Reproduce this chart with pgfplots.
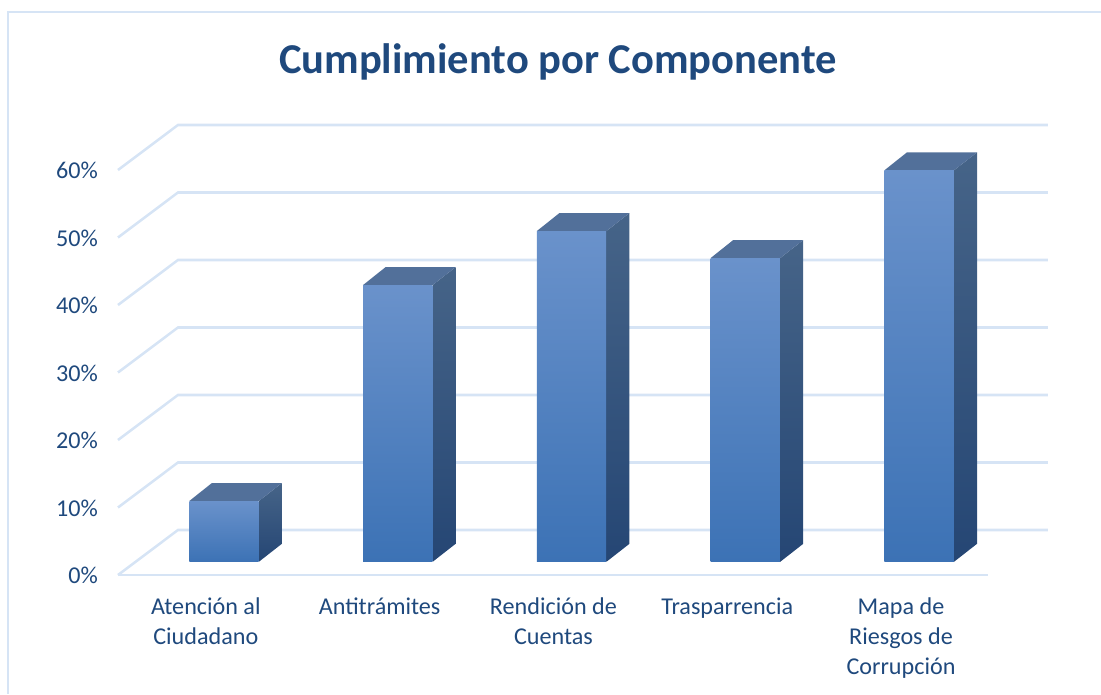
\documentclass[border=0pt]{standalone}
\usepackage{pgfplots}
\pgfplotsset{compat=1.18}
\usepackage{fontspec}
\setmainfont{Carlito}
\definecolor{txt}{HTML}{1F497D}
\definecolor{gridc}{HTML}{D6E4F5}
\definecolor{ftop}{HTML}{6A92CB}
\definecolor{fmid}{HTML}{4A80C4}
\definecolor{fbot}{HTML}{3C72B5}
\definecolor{stop}{HTML}{466488}
\definecolor{sbot}{HTML}{254674}
\definecolor{ttop}{HTML}{52709A}
\pgfplotsset{
  gridl/.style={draw=gridc,line width=1.9pt,no marks,line join=miter,forget plot},
  front/.style={draw=none,no marks,forget plot,top color=ftop,middle color=fmid,bottom color=fbot,yshift=9.9pt},
  side/.style={draw=none,no marks,forget plot,top color=stop,bottom color=sbot,yshift=9.9pt},
  topf/.style={draw=none,fill=ttop,no marks,forget plot,yshift=9.9pt},
}
\begin{document}
\begin{tikzpicture}
\useasboundingbox (-88.5pt,-89.25pt) rectangle (737.25pt,431.25pt);
\draw[gridc,line width=1.9pt] (-82.4pt,-89.25pt) -- (-82.4pt,422.25pt) -- (737.25pt,422.25pt);
\begin{axis}[
  scale only axis, width=652.5pt, height=337.5pt,
  xmin=-0.609, xmax=4.397, ymin=0, ymax=66.667,
  clip=false,
  axis line style={draw=none}, tick style={draw=none},
  xtick={0,1,2,3,4},
  xticklabels={{Atención al\\Ciudadano},{Antitrámites},{Rendición de\\Cuentas},{Trasparrencia},{Mapa de\\Riesgos de\\Corrupción}},
  ytick={0,10,20,30,40,50,60},
  yticklabels={0\%,10\%,20\%,30\%,40\%,50\%,60\%},
  xticklabel style={align=center,text=txt,font=\fontsize{18.1}{22.5}\selectfont,xshift=-13.5pt,yshift=-13.5pt},
  yticklabel style={text=txt,font=\fontsize{18.1}{21}\selectfont,xshift=-11.6pt,yshift=-0.6pt},
  title={Cumplimiento por Componente},
  title style={at={(0.5057,1.122)},anchor=center,text=txt,font=\bfseries\fontsize{31.9}{38}\selectfont},
]
% walls: slanted lines and back lines
\addplot[gridl] coordinates {(-0.609,0)(-0.264,6.667)(4.742,6.667)};
\addplot[gridl] coordinates {(-0.609,10)(-0.264,16.667)(4.742,16.667)};
\addplot[gridl] coordinates {(-0.609,20)(-0.264,26.667)(4.742,26.667)};
\addplot[gridl] coordinates {(-0.609,30)(-0.264,36.667)(4.742,36.667)};
\addplot[gridl] coordinates {(-0.609,40)(-0.264,46.667)(4.742,46.667)};
\addplot[gridl] coordinates {(-0.609,50)(-0.264,56.667)(4.742,56.667)};
\addplot[gridl] coordinates {(-0.609,60)(-0.264,66.667)(4.742,66.667)};
\addplot[gridl] coordinates {(-0.609,0)(4.397,0)};
% bar 1: 9
\addplot[side] coordinates {(0.2014,0)(0.3338,2.667)(0.3338,11.667)(0.2014,9)} --cycle;
\addplot[topf] coordinates {(-0.199,9)(0.2014,9)(0.3338,11.667)(-0.069,11.667)} --cycle;
\addplot[front] coordinates {(-0.199,0)(0.2,0)(0.2,9)(-0.199,9)} --cycle;
% bar 2: 41
\addplot[side] coordinates {(1.2014,0)(1.3338,2.667)(1.3338,43.667)(1.2014,41)} --cycle;
\addplot[topf] coordinates {(0.801,41)(1.2014,41)(1.3338,43.667)(0.931,43.667)} --cycle;
\addplot[front] coordinates {(0.801,0)(1.2,0)(1.2,41)(0.801,41)} --cycle;
% bar 3: 49
\addplot[side] coordinates {(2.2014,0)(2.3338,2.667)(2.3338,51.667)(2.2014,49)} --cycle;
\addplot[topf] coordinates {(1.801,49)(2.2014,49)(2.3338,51.667)(1.931,51.667)} --cycle;
\addplot[front] coordinates {(1.801,0)(2.2,0)(2.2,49)(1.801,49)} --cycle;
% bar 4: 45
\addplot[side] coordinates {(3.2014,0)(3.3338,2.667)(3.3338,47.667)(3.2014,45)} --cycle;
\addplot[topf] coordinates {(2.801,45)(3.2014,45)(3.3338,47.667)(2.931,47.667)} --cycle;
\addplot[front] coordinates {(2.801,0)(3.2,0)(3.2,45)(2.801,45)} --cycle;
% bar 5: 58
\addplot[side] coordinates {(4.2014,0)(4.3338,2.667)(4.3338,60.667)(4.2014,58)} --cycle;
\addplot[topf] coordinates {(3.801,58)(4.2014,58)(4.3338,60.667)(3.931,60.667)} --cycle;
\addplot[front] coordinates {(3.801,0)(4.2,0)(4.2,58)(3.801,58)} --cycle;
\end{axis}
\end{tikzpicture}
\end{document}
